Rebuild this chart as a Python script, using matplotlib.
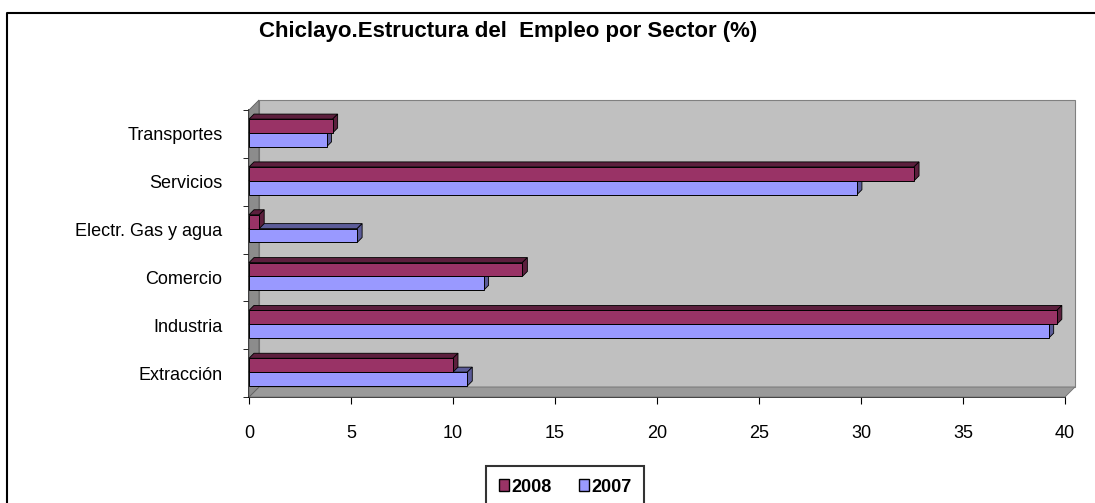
import matplotlib.pyplot as plt
from matplotlib.patches import Polygon, Rectangle, Patch
import matplotlib.transforms as mtransforms

plt.rcParams['font.family'] = ['Liberation Sans', 'DejaVu Sans']

sectores = ['Extracción', 'Industria', 'Comercio', 'Electr. Gas y agua',
            'Servicios', 'Transportes']
v2008 = [10.0, 39.6, 13.4, 0.5, 32.6, 4.1]
v2007 = [10.7, 39.2, 11.5, 5.3, 29.8, 3.8]
xticks = [0, 5, 10, 15, 20, 25, 30, 35, 40]

c2008 = '#993366'
c2007 = '#9999FF'

fig = plt.figure(figsize=(10.95, 5.03), dpi=100)
ax = fig.add_axes([249 / 1095, 106 / 503, 816 / 1095, 287 / 503])
ax.set_xlim(0, 40)
ax.set_ylim(-0.5, 5.5)

# outer frame (left and top)
fig.add_artist(plt.Line2D([7 / 1095, 7 / 1095, 1.0], [0, 490 / 503, 490 / 503],
                          transform=fig.transFigure, color='black', lw=1.5))

# depth offset of the 3D box (pixels -> points)
dx, dy = 10 * 0.72, 10 * 0.72
back = mtransforms.offset_copy(ax.transData, fig=fig, x=dx, y=dy, units='points')

# back wall
ax.add_patch(Rectangle((0, -0.5), 40, 6, transform=back, facecolor='#C0C0C0',
                       edgecolor='#808080', lw=0.8, zorder=0, clip_on=False))


def disp(x, y, t):
    return t.transform((x, y))


inv = fig.transFigure.inverted()
fl = [disp(0, -0.5, ax.transData), disp(40, -0.5, ax.transData),
      disp(40, -0.5, back), disp(0, -0.5, back)]
fig.add_artist(Polygon(inv.transform(fl), closed=True, transform=fig.transFigure,
                       facecolor='#9A9A9A', edgecolor='#707070', lw=0.6, zorder=1))
lw_ = [disp(0, -0.5, ax.transData), disp(0, 5.5, ax.transData),
       disp(0, 5.5, back), disp(0, -0.5, back)]
fig.add_artist(Polygon(inv.transform(lw_), closed=True, transform=fig.transFigure,
                       facecolor='#8C8C8C', edgecolor='#606060', lw=0.6, zorder=1))

# 3D bars
h = 0.29
bdx, bdy = 5 * 0.72, 5 * 0.72
bar_off = mtransforms.offset_copy(ax.transData, fig=fig, x=bdx, y=bdy, units='points')


def bar3d(y0, val, color, dark):
    p = [disp(0, y0 + h, ax.transData), disp(val, y0 + h, ax.transData),
         disp(val, y0 + h, bar_off), disp(0, y0 + h, bar_off)]
    fig.add_artist(Polygon(inv.transform(p), closed=True, transform=fig.transFigure,
                           facecolor=dark, edgecolor='black', lw=0.6, zorder=3))
    s = [disp(val, y0, ax.transData), disp(val, y0 + h, ax.transData),
         disp(val, y0 + h, bar_off), disp(val, y0, bar_off)]
    fig.add_artist(Polygon(inv.transform(s), closed=True, transform=fig.transFigure,
                           facecolor=dark, edgecolor='black', lw=0.6, zorder=3))
    r = [disp(0, y0, ax.transData), disp(val, y0, ax.transData),
         disp(val, y0 + h, ax.transData), disp(0, y0 + h, ax.transData)]
    fig.add_artist(Polygon(inv.transform(r), closed=True, transform=fig.transFigure,
                           facecolor=color, edgecolor='black', lw=0.7, zorder=4))


fig.canvas.draw()
for i in range(len(sectores)):
    bar3d(i - 0.27, v2007[i], c2007, '#5C5C99')
    bar3d(i + 0.02, v2008[i], c2008, '#5C1F3D')

ax.set_facecolor('none')
for s in ['top', 'right']:
    ax.spines[s].set_visible(False)
ax.spines['left'].set_linewidth(1.2)
ax.spines['bottom'].set_linewidth(1.2)

ax.set_xticks(xticks)
ax.set_xticklabels([str(t) for t in xticks], fontsize=13)
ax.set_yticks(range(len(sectores)))
ax.set_yticklabels(sectores, fontsize=13)
ax.set_yticks([i - 0.5 for i in range(len(sectores) + 1)], minor=True)
ax.tick_params(axis='y', which='major', length=0, pad=19)
ax.tick_params(axis='y', which='minor', length=4, direction='out')
ax.tick_params(axis='x', length=5, direction='out', pad=15)

fig.text(508 / 1095, 1 - 32 / 503, 'Chiclayo.Estructura del  Empleo por Sector (%)',
         ha='center', va='center', fontsize=16, fontweight='bold')

leg = fig.legend(handles=[Patch(facecolor=c2008, edgecolor='black', label='2008'),
                          Patch(facecolor=c2007, edgecolor='black', label='2007')],
                 loc='center', bbox_to_anchor=(565 / 1095, 1 - 487 / 503), ncol=2,
                 frameon=True, fancybox=False, edgecolor='black', handlelength=0.6,
                 handleheight=0.6, handletextpad=0.1, columnspacing=1.5,
                 prop={'weight': 'bold', 'size': 13}, borderpad=0.7,
                 borderaxespad=0, handler_map=None)
leg.get_frame().set_linewidth(1.5)
leg._legend_box.sep = 5

fig.savefig('out.png', dpi=100)
